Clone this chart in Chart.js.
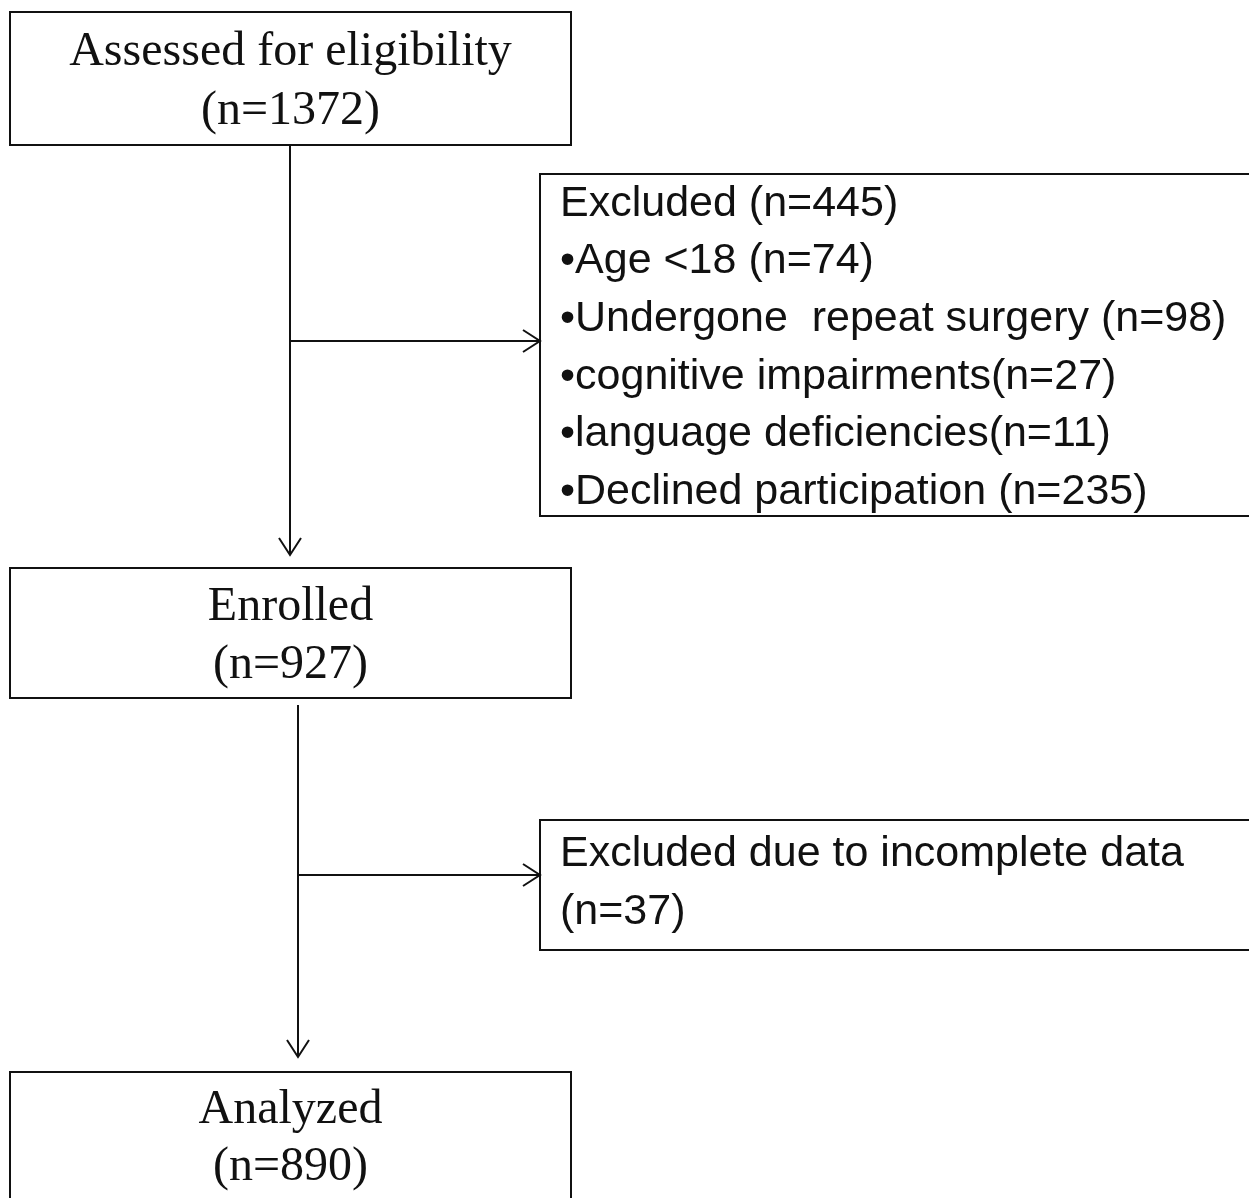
<!DOCTYPE html>
<html>
<head>
<meta charset="utf-8">
<script src="https://cdn.jsdelivr.net/npm/chart.js@4.4.0/dist/chart.umd.min.js"></script>
<style>
  html, body { margin: 0; padding: 0; background: #fff; }
  canvas { display: block; }
</style>
</head>
<body>
<canvas id="flowChart" width="1249" height="1198"></canvas>
<script>
// flow stages (main column) and exclusions (side boxes)
const stageNames = ['Assessed for eligibility', 'Enrolled', 'Analyzed'];
const stageCounts = [1372, 927, 890];
const exclusionTitles = ['Excluded (n=445)', 'Excluded due to incomplete data'];
const exclusionReasons = ['Age <18', 'Undergone  repeat surgery', 'cognitive impairments', 'language deficiencies', 'Declined participation'];
const exclusionReasonCounts = [74, 98, 27, 11, 235];
const lateExclusionCount = 37;

// layout in axis units (y grows downward)
const stageBoxes = [
    { x0: 10, x1: 571, y0: 12, y1: 145, line1: 52, line2: 111 },
    { x0: 10, x1: 571, y0: 568, y1: 698, line1: 607, line2: 665 },
    { x0: 10, x1: 571, y0: 1072, y1: 1210, line1: 1110, line2: 1167 }
];
const sideBoxes = [
    { x0: 540, x1: 1260, y0: 174, y1: 516, top: 204, step: 57.6 },
    { x0: 540, x1: 1260, y0: 820, y1: 950, top: 854, step: 58 }
];
const trunks = [
    { x: 290, y0: 145, y1: 555, branchY: 341 },
    { x: 298, y0: 705, y1: 1057, branchY: 875 }
];

function reasonLines() {
    const lines = [exclusionTitles[0]];
    exclusionReasons.forEach((r, i) => {
        const sep = (i === 2 || i === 3) ? '' : ' ';
        lines.push('\u2022' + r + sep + '(n=' + exclusionReasonCounts[i] + ')');
    });
    return lines;
}

function arrowHead(ctx, x, y, dir) {
    const len = 17, half = 11;
    ctx.beginPath();
    if (dir === 'down') {
        ctx.moveTo(x - half, y - len);
        ctx.lineTo(x, y);
        ctx.lineTo(x + half, y - len);
    } else {
        ctx.moveTo(x - len, y - half);
        ctx.lineTo(x, y);
        ctx.lineTo(x - len, y + half);
    }
    ctx.stroke();
}

const flowPlugin = {
    id: 'flowPlugin',
    afterDraw(chart) {
        const ctx = chart.ctx;
        const sx = chart.scales.x, sy = chart.scales.y;
        const px = v => sx.getPixelForValue(v);
        const py = v => sy.getPixelForValue(v);
        ctx.save();
        ctx.strokeStyle = '#111';
        ctx.fillStyle = '#111';
        ctx.lineWidth = 2;

        // main column boxes
        ctx.font = '48px "Liberation Serif", "Times New Roman", serif';
        ctx.textAlign = 'center';
        ctx.textBaseline = 'middle';
        stageBoxes.forEach((b, i) => {
            ctx.strokeRect(px(b.x0), py(b.y0), px(b.x1) - px(b.x0), py(b.y1) - py(b.y0));
            const cx = (px(b.x0) + px(b.x1)) / 2;
            ctx.fillText(stageNames[i], cx, py(b.line1));
            ctx.fillText('(n=' + stageCounts[i] + ')', cx, py(b.line2));
        });

        // side boxes
        ctx.font = '43px "Liberation Sans", Arial, sans-serif';
        ctx.textAlign = 'left';
        const sideText = [reasonLines(), [exclusionTitles[1], '(n=' + lateExclusionCount + ')']];
        sideBoxes.forEach((b, i) => {
            ctx.strokeRect(px(b.x0), py(b.y0), px(b.x1) - px(b.x0), py(b.y1) - py(b.y0));
            sideText[i].forEach((t, j) => {
                ctx.fillText(t, px(b.x0) + 20, py(b.top + j * b.step));
            });
        });

        // connectors
        trunks.forEach((t, i) => {
            ctx.beginPath();
            ctx.moveTo(px(t.x), py(t.y0));
            ctx.lineTo(px(t.x), py(t.y1));
            ctx.moveTo(px(t.x), py(t.branchY));
            ctx.lineTo(px(sideBoxes[i].x0), py(t.branchY));
            ctx.stroke();
            arrowHead(ctx, px(t.x), py(t.y1), 'down');
            arrowHead(ctx, px(sideBoxes[i].x0), py(t.branchY), 'right');
        });
        ctx.restore();
    }
};

new Chart(document.getElementById('flowChart'), {
    type: 'scatter',
    data: { datasets: [{ data: [], pointRadius: 0 }] },
    options: {
        responsive: false,
        animation: false,
        layout: { padding: 0 },
        scales: {
            x: { type: 'linear', min: 0, max: 1249, display: false },
            y: { type: 'linear', min: 0, max: 1198, reverse: true, display: false }
        },
        plugins: {
            legend: { display: false },
            tooltip: { enabled: false }
        }
    },
    plugins: [flowPlugin]
});
</script>
</body>
</html>
